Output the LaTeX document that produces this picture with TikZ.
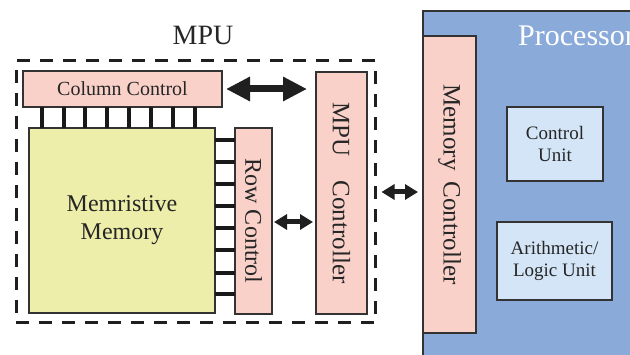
\documentclass[tikz,border=0pt]{standalone}
\usepackage{fontspec}
\setmainfont{Liberation Serif}
\usetikzlibrary{arrows.meta}

\definecolor{ctlpink}{HTML}{F9D1C9}
\definecolor{memyellow}{HTML}{ECEEAA}
\definecolor{procblue}{HTML}{8AAAD9}
\definecolor{unitblue}{HTML}{D3E5F6}
\definecolor{edgegray}{HTML}{333333}

\tikzset{
  blk/.style={draw=edgegray, line width=1.2pt, inner sep=0pt, outer sep=0pt, align=center, text=black!85},
  pinkbox/.style={blk, fill=ctlpink},
  unitbox/.style={blk, fill=unitblue, font=\fontsize{19}{22}\selectfont},
  wire/.style={line width=4pt, draw=black!90},
  bigarrow/.style={line width=7pt, draw=black!88,
    {Triangle[length=24pt,width=23pt]}-{Triangle[length=24pt,width=23pt]}},
  smallarrow/.style={line width=5pt, draw=black!88,
    {Triangle[length=13pt,width=15pt]}-{Triangle[length=13pt,width=15pt]}},
}

\begin{document}
\begin{tikzpicture}[x=1pt, y=-1pt]
\useasboundingbox (0,0) rectangle (630,355);
\clip (0,0) rectangle (630,355);

% processor block (runs off the right and bottom edges)
\node[blk, fill=procblue, minimum width=237pt, minimum height=369pt] (proc) at (541.5,195.5) {};
\node[anchor=west, text=white, font=\fontsize{30}{32}\selectfont, inner sep=0pt] (proclabel) at (518,36) {Processor};
\node[pinkbox, minimum width=297pt, minimum height=53pt, rotate=-90, font=\fontsize{25}{28}\selectfont] (memctl) at (449.5,184.5) {Memory\hspace{11pt}Controller};
\node[unitbox, minimum width=96pt, minimum height=74pt] (cu) at (555,144) {Control\\Unit};
\node[unitbox, minimum width=115pt, minimum height=78pt] (alu) at (554.5,261) {Arithmetic/\\Logic Unit};

% memory processing unit
\node[draw=black!88, line width=3pt, dash pattern=on 13pt off 10pt, minimum width=359pt, minimum height=262pt, inner sep=0pt] (mpu) at (195.5,192) {};
\node[font=\fontsize{28}{30}\selectfont, text=black!85, inner sep=0pt] (mpulabel) at (203,35) {MPU};

\node[pinkbox, minimum width=199pt, minimum height=36pt, font=\fontsize{20}{22}\selectfont] (colctl) at (122.5,89) {Column Control};
\node[blk, fill=memyellow, minimum width=186pt, minimum height=185pt, font=\fontsize{24}{28}\selectfont] (mem) at (122,220.5) {Memristive\\Memory};
\node[pinkbox, minimum width=186pt, minimum height=37pt, rotate=-90, font=\fontsize{24}{28}\selectfont] (rowctl) at (253.5,221) {Row Control};
\node[pinkbox, minimum width=242pt, minimum height=51pt, rotate=-90, font=\fontsize{25}{28}\selectfont] (mpuctl) at (341.5,193) {MPU\hspace{24pt}Controller};

% column lines between column control and the array
\foreach \x in {42,63.5,85,107,129,151,173,195}
  \draw[wire] (\x,0 |- colctl.south) -- (\x,0 |- mem.north);
% row lines between the array and row control (rotated node: south is its left side)
\foreach \y in {140,162,184,206.5,228.5,250.5,273,294}
  \draw[wire] (mem.east |- 0,\y) -- (rowctl.south |- 0,\y);

% data paths
\draw[bigarrow, shorten <=4pt, shorten >=9pt] (colctl.east) -- (colctl.east -| mpuctl.south);
\draw[smallarrow, shorten <=2pt, shorten >=3pt] (rowctl.north |- 0,222) -- (mpuctl.south |- 0,222);
\draw[smallarrow, shorten <=5pt, shorten >=5pt] (mpu.east |- 0,192) -- (memctl.south |- 0,192);
\end{tikzpicture}
\end{document}
